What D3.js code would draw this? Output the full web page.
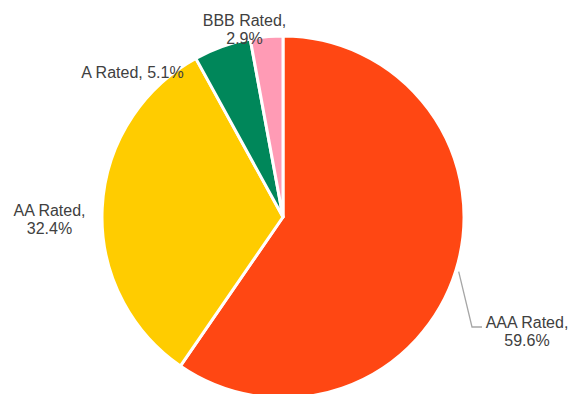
<!DOCTYPE html>
<html>
<head>
<meta charset="utf-8">
<script src="https://cdn.jsdelivr.net/npm/d3@7.9.0/dist/d3.min.js"></script>
<style>
    body { margin: 0; background: #fff; }
    text { font-family: "Liberation Sans", Arial, sans-serif; font-size: 16px; fill: #404040; }
</style>
</head>
<body>
<svg id="chart" width="583" height="394"></svg>
<script>
// chart data
const ratings = ['AAA Rated', 'AA Rated', 'A Rated', 'BBB Rated'];
const shares = [59.6, 32.4, 5.1, 2.9];
const colors = ['#ff4713', '#ffcc00', '#00875a', '#ff9bb5'];

const width = 583, height = 394;
const cx = 283, cy = 217, radius = 181;

const svg = d3.select('#chart');
const g = svg.append('g').attr('transform', `translate(${cx},${cy})`);

const pie = d3.pie().sort(null).value((d) => d.value);
const arc = d3.arc().innerRadius(0).outerRadius(radius);

const slices = pie(ratings.map((name, i) => ({ name, value: shares[i], color: colors[i] })));

g.selectAll('path')
    .data(slices)
    .join('path')
    .attr('d', arc)
    .attr('fill', (d) => d.data.color)
    .attr('stroke', '#fff')
    .attr('stroke-width', 3)
    .attr('stroke-linejoin', 'round');

// label placement relative to pie center (x = line centre, y = first baseline)
const labelLayout = [
    { x: 244, y: 111, wrap: true, leader: true },
    { x: -233.5, y: -1, wrap: true },
    { x: -150.5, y: -139, wrap: false },
    { x: -38.5, y: -191, wrap: true },
];

const lineHeight = 18;
const pointOn = (a, r) => [Math.sin(a) * r, -Math.cos(a) * r];

slices.forEach((d, i) => {
    const lay = labelLayout[i];
    const pct = d3.format('.1f')(d.data.value) + '%';
    const lines = lay.wrap ? [d.data.name + ',', pct] : [d.data.name + ', ' + pct];

    if (lay.leader) {
        const mid = (d.startAngle + d.endAngle) / 2;
        const p0 = pointOn(mid, radius + 3);
        const textLeft = lay.x - 42;
        const elbow = [textLeft - 13, lay.y - 1];
        g.append('polyline')
            .attr('points', [p0, elbow, [textLeft - 3, lay.y - 1]].map((p) => p.join(',')).join(' '))
            .attr('fill', 'none')
            .attr('stroke', '#a6a6a6')
            .attr('stroke-width', 1.3);
    }

    const t = g.append('text')
        .attr('text-anchor', 'middle')
        .attr('x', lay.x)
        .attr('y', lay.y);
    lines.forEach((line, j) => {
        t.append('tspan')
            .attr('x', lay.x)
            .attr('y', lay.y + j * lineHeight)
            .text(line);
    });
});
</script>
</body>
</html>
